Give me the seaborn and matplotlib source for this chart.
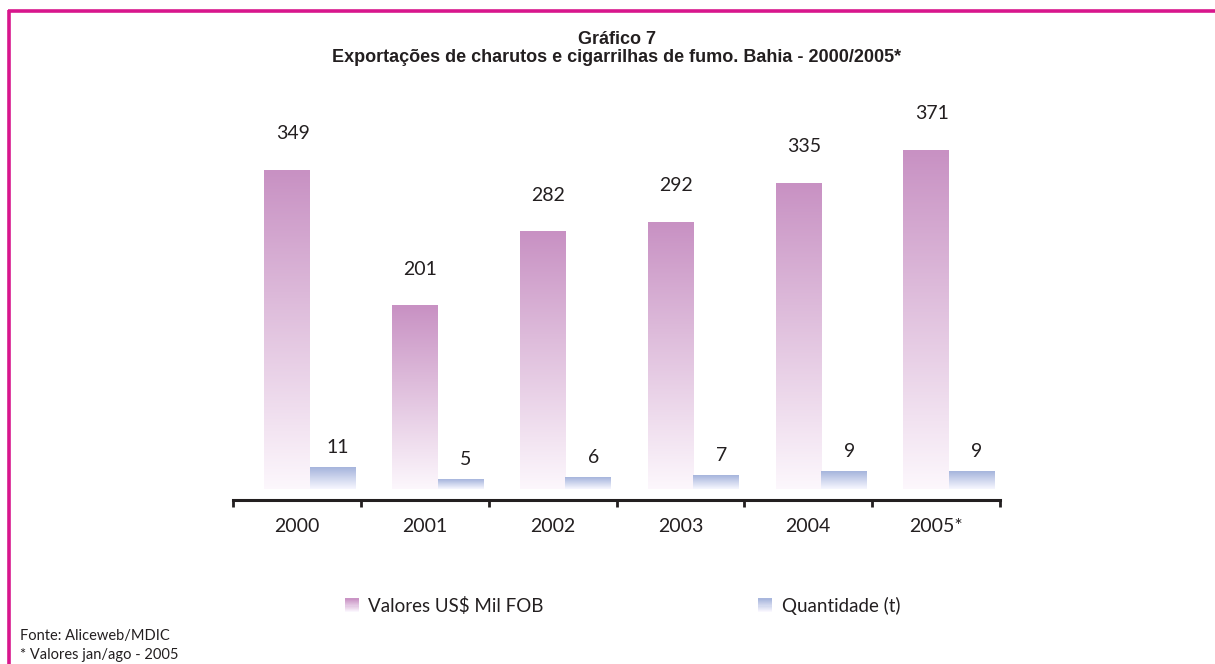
import numpy as np
import pandas as pd
import matplotlib
matplotlib.use("Agg")
import matplotlib.pyplot as plt
import seaborn as sns
from matplotlib.colors import LinearSegmentedColormap, to_rgb
from matplotlib.patches import Rectangle
from matplotlib.legend_handler import HandlerBase
from matplotlib.lines import Line2D

# ---- data ----
anos = ["2000", "2001", "2002", "2003", "2004", "2005*"]
valores = [349, 201, 282, 292, 335, 371]
quantidade = [11, 5, 6, 7, 9, 9]
serie_valor = "Valores US$ Mil FOB"
serie_qtd = "Quantidade (t)"
titulo = "Gráfico 7\nExportações de charutos e cigarrilhas de fumo. Bahia - 2000/2005*"
notas = ["Fonte: Aliceweb/MDIC", "* Valores jan/ago - 2005"]

# ---- style ----
sns.set_theme(style="white")
plt.rcParams["font.family"] = ["Lato", "DejaVu Sans"]
TXT = "#231f20"
PINK = "#C891C3"
BLUE = "#A5B4DC"
MAGENTA = "#D8168C"

df_v = pd.DataFrame({"ano": anos, "valor": valores, "serie": serie_valor})
df_q = pd.DataFrame({"ano": anos, "valor": quantidade, "serie": serie_qtd})
order = [serie_valor, serie_qtd]
pal = {serie_valor: PINK, serie_qtd: BLUE}

fig = plt.figure(figsize=(12.15, 6.64), dpi=100)
ax = fig.add_axes([233 / 1215, 1 - 500 / 664, (1000 - 233) / 1215, 370 / 664])
ax2 = ax.twinx()

sns.barplot(data=df_v, x="ano", y="valor", hue="serie", hue_order=order,
            palette=pal, width=0.71, dodge=True, ax=ax, legend=False, errorbar=None)
sns.barplot(data=df_q, x="ano", y="valor", hue="serie", hue_order=order,
            palette=pal, width=0.71, dodge=True, ax=ax2, legend=False, errorbar=None)

n = len(anos)


def set_limits():
    ax.set_ylim(-12, 393)
    ax2.set_ylim(-5.5, 179.5)
    for a in (ax, ax2):
        a.set_xlim(-0.6, n - 0.6)


set_limits()


def gradient_fill(a, color, bottom_color=(1, 1, 1)):
    cmap = LinearSegmentedColormap.from_list("g", [bottom_color, to_rgb(color)])
    grad = np.linspace(0, 1, 256).reshape(-1, 1)
    for p in list(a.patches):
        h = p.get_height()
        if not np.isfinite(h) or h == 0:
            continue
        x0 = p.get_x()
        w = p.get_width()
        y0 = p.get_y()
        im = a.imshow(grad, extent=[x0, x0 + w, y0, y0 + h], origin="lower",
                      aspect="auto", cmap=cmap, vmin=0, vmax=1, zorder=2,
                      interpolation="bicubic")
        im.set_clip_path(p)
        p.set_facecolor("none")
        p.set_edgecolor("none")


gradient_fill(ax, PINK, (0.99, 0.97, 0.99))
gradient_fill(ax2, BLUE, (0.97, 0.97, 1.0))
set_limits()

# value labels
for a, dy in ((ax, 20), (ax2, 8)):
    for p in a.patches:
        h = p.get_height()
        if not np.isfinite(h) or h == 0:
            continue
        a.annotate(f"{h:.0f}", (p.get_x() + p.get_width() / 2, h),
                   xytext=(4, dy), textcoords="offset points",
                   ha="center", va="bottom", fontsize=14, color=TXT)

# axes styling
for a in (ax, ax2):
    for s in ("top", "right", "left"):
        a.spines[s].set_visible(False)
    a.set_yticks([])
    a.set_ylabel("")
    a.set_xlabel("")
ax2.spines["bottom"].set_visible(False)
ax2.tick_params(axis="x", which="both", length=0, labelbottom=False)

ax.spines["bottom"].set_linewidth(2.2)
ax.spines["bottom"].set_color(TXT)
ax.set_xticks(np.arange(n) - 0.1, anos)
ax.set_xticks(np.arange(n + 1) - 0.6, minor=True)
ax.tick_params(axis="x", which="major", length=0, pad=13, labelsize=14, labelcolor=TXT)
ax.tick_params(axis="x", which="minor", length=5, width=2, color=TXT, direction="out", bottom=True)

# title
fig.text(617 / 1215, 1 - 31 / 664, titulo, ha="center", va="top",
         fontsize=13, fontweight="bold", family=["Liberation Sans", "DejaVu Sans"],
         color=TXT, linespacing=1.05)

# footnotes
fig.text(20 / 1215, 1 - 636 / 664, notas[0], ha="left", va="center", fontsize=10.5, color=TXT)
fig.text(20 / 1215, 1 - 655 / 664, notas[1], ha="left", va="center", fontsize=10.5, color=TXT)


# legend with gradient squares
class GradHandler(HandlerBase):
    def __init__(self, color, **kw):
        super().__init__(**kw)
        self.color = color

    def create_artists(self, legend, orig_handle, xdescent, ydescent, width, height, fontsize, trans):
        arts = []
        size = height * 1.05
        x0 = -xdescent + (width - size)
        y0 = -ydescent + (height - size) / 2
        top = np.array(to_rgb(self.color))
        bot = np.array([0.99, 0.98, 1.0])
        k = 12
        for i in range(k):
            t = (i + 0.5) / k
            c = bot * (1 - t) + top * t
            arts.append(Rectangle((x0, y0 + size * i / k), size, size / k + 0.3,
                                  facecolor=c, edgecolor="none", transform=trans))
        return arts


h1 = Line2D([], [])
h2 = Line2D([], [])
fig.legend([h1, h2], [serie_valor, serie_qtd], loc="center",
           bbox_to_anchor=(620 / 1215, 1 - 606 / 664), ncol=2, frameon=False,
           fontsize=13.5, labelcolor=TXT, columnspacing=11.2, handlelength=1.0,
           handletextpad=0.5,
           handler_map={h1: GradHandler(PINK), h2: GradHandler(BLUE)})

# magenta frame (top and left)
fig.add_artist(Line2D([8 / 1215, 1.0], [1 - 10.5 / 664, 1 - 10.5 / 664],
                      transform=fig.transFigure, color=MAGENTA, lw=2.6,
                      solid_capstyle="butt"))
fig.add_artist(Line2D([8.5 / 1215, 8.5 / 1215], [0, 1 - 9.5 / 664],
                      transform=fig.transFigure, color=MAGENTA, lw=2.6,
                      solid_capstyle="butt"))

fig.savefig("out.png", dpi=100, facecolor="white")
